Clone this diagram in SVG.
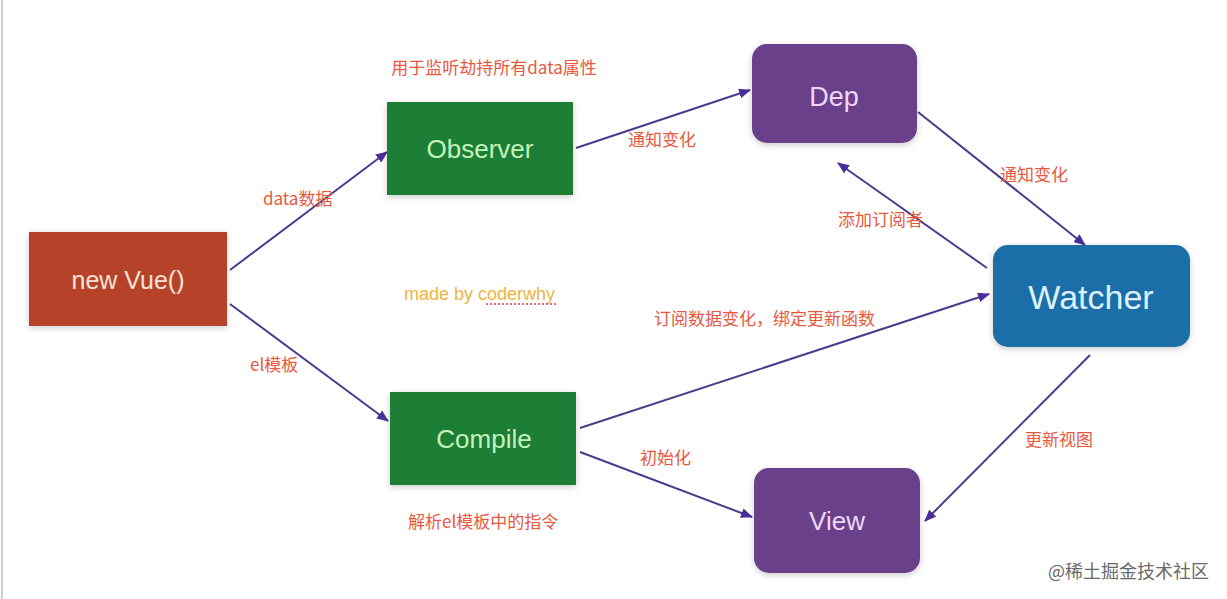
<svg xmlns="http://www.w3.org/2000/svg" width="1227" height="599" viewBox="0 0 1227 599">
<style>
.node text{font-family:"Liberation Sans",Arial,sans-serif;text-anchor:middle;dominant-baseline:central}
.lbl{font-family:"Noto Sans CJK SC","Liberation Sans",sans-serif;fill:#e8583f;font-size:17px}
.conn line{stroke:#4a3c8c;stroke-width:2;fill:none}
</style>
<defs>
<marker id="ah" viewBox="0 0 12 10" refX="11" refY="5" markerWidth="12" markerHeight="10" markerUnits="userSpaceOnUse" orient="auto">
<path d="M0,0 L12,5 L0,10 Z" fill="#4a2f9a"/>
</marker>
<filter id="sh" x="-10%" y="-10%" width="120%" height="130%">
<feDropShadow dx="0" dy="2" stdDeviation="3" flood-color="#000" flood-opacity="0.2"/>
</filter>
</defs>
<rect width="1227" height="599" fill="#ffffff"/>
<line x1="2" y1="0" x2="2" y2="599" stroke="#d0d0d0" stroke-width="2"/>

<g class="conn">
<line x1="230" y1="270" x2="387" y2="152" marker-end="url(#ah)"/>
<line x1="230" y1="304" x2="388" y2="421" marker-end="url(#ah)"/>
<line x1="576" y1="148" x2="750" y2="90" marker-end="url(#ah)"/>
<line x1="918" y1="112" x2="1085" y2="245" marker-end="url(#ah)"/>
<line x1="987" y1="268" x2="838" y2="163" marker-end="url(#ah)"/>
<line x1="580" y1="428" x2="989" y2="294" marker-end="url(#ah)"/>
<line x1="580" y1="452" x2="752" y2="517" marker-end="url(#ah)"/>
<line x1="1090" y1="355" x2="925" y2="521" marker-end="url(#ah)"/>
</g>

<g id="newvue" class="node">
<rect x="29" y="232" width="198" height="94" fill="#b7432a" filter="url(#sh)"/>
<text x="128" y="280" font-size="25" fill="#f6e2d6">new Vue()</text>
</g>
<g id="observer" class="node">
<rect x="387" y="102" width="186" height="93" fill="#1f7f36" filter="url(#sh)"/>
<text x="480" y="149" font-size="26" fill="#c6f2bc">Observer</text>
</g>
<g id="compile" class="node">
<rect x="390" y="392" width="186" height="93" fill="#1f7f36" filter="url(#sh)"/>
<text x="484" y="439" font-size="26" fill="#c6f2bc">Compile</text>
</g>
<g id="dep" class="node">
<rect x="752" y="44" width="165" height="99" rx="15" fill="#6a3f8b" filter="url(#sh)"/>
<text x="834" y="97" font-size="27" fill="#eed8f8">Dep</text>
</g>
<g id="watcher" class="node">
<rect x="993" y="245" width="197" height="102" rx="15" fill="#1c6ea8" filter="url(#sh)"/>
<text x="1091" y="297" font-size="34" fill="#dcf2ff">Watcher</text>
</g>
<g id="view" class="node">
<rect x="754" y="468" width="166" height="105" rx="15" fill="#6a3f8b" filter="url(#sh)"/>
<text x="837" y="521" font-size="26" fill="#eed8f8">View</text>
</g>

<g id="labels">
<text class="lbl" x="494" y="74" text-anchor="middle">用于监听劫持所有data属性</text>
<text class="lbl" x="263" y="205">data数据</text>
<text class="lbl" x="250" y="371">el模板</text>
<text class="lbl" x="628" y="146">通知变化</text>
<text class="lbl" x="1000" y="181">通知变化</text>
<text class="lbl" x="838" y="226" font-size="18">添加订阅者</text>
<text class="lbl" x="654" y="325" font-size="18">订阅数据变化，绑定更新函数</text>
<text class="lbl" x="640" y="464">初始化</text>
<text class="lbl" x="408" y="528">解析el模板中的指令</text>
<text class="lbl" x="1025" y="446">更新视图</text>
<text x="404" y="300" font-family="Liberation Sans,Arial,sans-serif" font-size="18" fill="#f0b440">made by coderwhy</text>
<line x1="486" y1="304" x2="556" y2="304" stroke="#d84040" stroke-width="1.5" stroke-dasharray="2,2"/>
<text x="1048" y="578" font-family="Noto Sans CJK SC,sans-serif" font-size="18" fill="#6a6a6a">@稀土掘金技术社区</text>
</g>
</svg>
